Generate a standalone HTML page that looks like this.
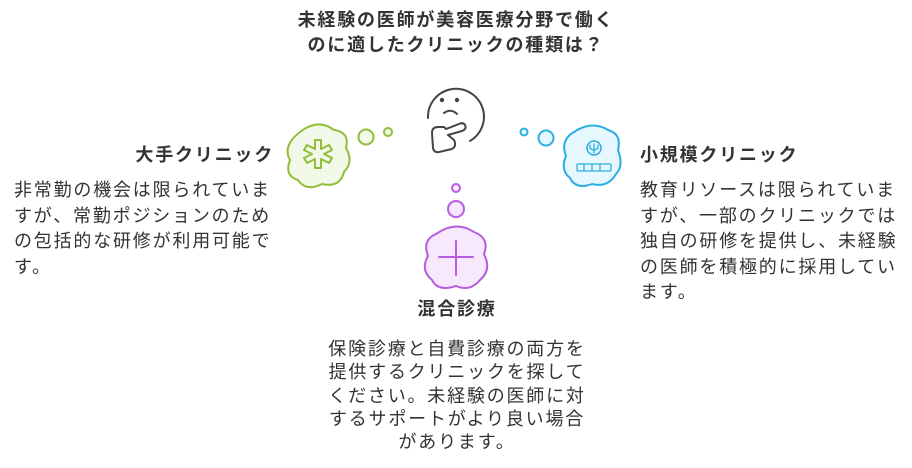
<!DOCTYPE html>
<html><head><meta charset="utf-8"><style>
body{margin:0;width:912px;height:468px;background:#fff;position:relative;overflow:hidden;font-family:"Liberation Sans","Noto Sans CJK JP",sans-serif;color:#333}
.t{position:absolute;font-size:18px;line-height:25.5px;letter-spacing:1.8px;white-space:nowrap}
.b{font-weight:bold;font-size:18px;letter-spacing:1.8px}
</style></head><body>
<svg width="912" height="468" style="position:absolute;left:0;top:0">
<g fill="none" stroke-width="2" stroke-linecap="round" stroke-linejoin="round">
<g stroke="#444">
<path d="M428 118 A28 28 0 1 1 470 141"/>
<circle cx="442" cy="100" r="1.2" fill="#444"/><circle cx="457" cy="100" r="1.2" fill="#444"/>
<path d="M444 113 Q451 108 457 114"/>
<path d="M438 127 Q432 127 432 133 L433 148 Q434 153 439 152 L452 149 Q457 146 454 140 L448 135 L462 131 Q467 129 465 125 Q463 122 459 124 L446 129 L444 127 Z"/>
</g>
<g stroke="#8fbf3a" fill="#f2f9e8">
<path d="M300 132 Q318 118 334 130 Q350 132 346 148 Q354 162 344 172 Q340 188 322 184 Q306 192 298 180 Q284 176 290 160 Q282 146 300 132Z"/>
<circle cx="366" cy="137" r="7.5"/><circle cx="388" cy="132" r="4"/>
<path fill="none" d="M315 140h6v9l8-4 3 5-8 4 8 4-3 5-8-4v9h-6v-9l-8 4-3-5 8-4-8-4 3-5 8 4z"/>
</g>
<g stroke="#2ab0e0" fill="#e6f7fd">
<path d="M574 132 Q592 120 608 130 Q622 134 618 150 Q624 166 616 174 Q608 188 592 184 Q576 190 570 178 Q560 170 566 156 Q560 140 574 132Z"/>
<circle cx="546" cy="138" r="7.5"/><circle cx="524" cy="132" r="3.5"/>
<circle cx="594" cy="148" r="7" stroke-width="1.5"/>
<path d="M590 145v3q4 4 8 0v-3M594 144v9" stroke-width="1.3"/>
<rect x="577" y="164" width="34" height="7" rx="1" stroke-width="1.3"/>
<path d="M584 164v7M592 164v7M600 164v7" stroke-width="1.3"/>
</g>
<g stroke="#b65ee0" fill="#f7e8fd">
<path d="M436 234 Q456 220 474 232 Q490 238 484 254 Q492 270 480 280 Q470 292 456 286 Q438 292 432 280 Q420 270 428 256 Q422 240 436 234Z"/>
<circle cx="456" cy="209" r="8"/><circle cx="456" cy="188" r="4"/>
<path d="M439 257h34M456 241v34"/>
</g>
</g>
</svg>
<div class="t b" style="left:206px;top:8px;width:500px;text-align:center;line-height:25px">未経験の医師が美容医療分野で働く<br>のに適したクリニックの種類は？</div>
<div class="t b" style="left:72px;top:143px;width:202px;text-align:right">大手クリニック</div>
<div class="t" style="left:14px;top:178px">非常勤の機会は限られていま<br>すが、常勤ポジションのため<br>の包括的な研修が利用可能で<br>す。</div>
<div class="t b" style="left:640px;top:143px">小規模クリニック</div>
<div class="t" style="left:640px;top:178px">教育リソースは限られていま<br>すが、一部のクリニックでは<br>独自の研修を提供し、未経験<br>の医師を積極的に採用してい<br>ます。</div>
<div class="t b" style="left:356px;top:297px;width:202px;text-align:center">混合診療</div>
<div class="t" style="left:256px;top:338px;width:402px;text-align:center;line-height:23.3px">保険診療と自費診療の両方を<br>提供するクリニックを探して<br>ください。未経験の医師に対<br>するサポートがより良い場合<br>があります。</div>
</body></html>
